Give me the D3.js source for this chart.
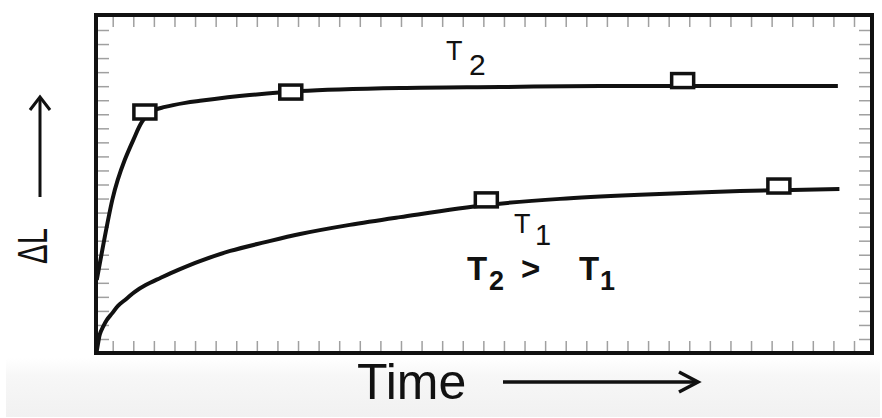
<!DOCTYPE html>
<html>
<head>
<meta charset="utf-8">
<script src="https://cdn.jsdelivr.net/npm/d3@7"></script>
<style>
  body { margin: 0; background: #fff; }
  svg { display: block; font-family: "Liberation Sans", Arial, sans-serif; }
</style>
</head>
<body>
<div id="chart"></div>
<script>
// curve values (time 0-100, length change 0-100)
const t2Time = [0.1, 2.1, 2.8, 3.7, 4.8, 5.9, 7.0, 8.9, 11.5, 13.4, 19.8, 26.3, 39.2, 52.1, 65.0, 77.8, 95.6];
const t2Len  = [21.6, 45.3, 51.2, 57.1, 63.0, 68.3, 71.3, 72.8, 74.0, 74.6, 76.3, 77.5, 78.4, 78.7, 79.0, 79.0, 79.0];
const t1Time = [0.1, 0.3, 0.5, 0.9, 1.4, 2.1, 2.8, 3.9, 5.0, 6.4, 8.3, 10.6, 13.4, 17.3, 21.8, 26.3, 32.7, 39.2, 50.3, 59.8, 70.1, 83.0, 95.8];
const t1Len  = [0.6, 3.3, 5.6, 7.7, 9.8, 11.8, 13.9, 16.0, 18.1, 20.1, 22.2, 24.6, 27.2, 30.2, 32.8, 35.2, 37.9, 40.2, 43.8, 45.6, 46.8, 47.9, 48.5];
// square markers
const t2MarkTime = [6.3, 25.1, 75.6];
const t2MarkLen  = [71.3, 77.2, 80.6];
const t1MarkTime = [50.3, 88.0];
const t1MarkLen  = [45.3, 49.4];
// minor tick counts on the frame
const xTickIdx = d3.range(37);
const yTickIdx = d3.range(23);

const width = 882, height = 418;
const frame = {left: 96, top: 15, right: 872, bottom: 353};

const svg = d3.select("#chart").append("svg")
    .attr("width", width)
    .attr("height", height);

// light grey band under the plot
const grad = svg.append("defs").append("linearGradient")
    .attr("id", "band").attr("x1", 0).attr("y1", 0).attr("x2", 0).attr("y2", 1);
grad.append("stop").attr("offset", "0").attr("stop-color", "#ffffff");
grad.append("stop").attr("offset", "0.3").attr("stop-color", "#f7f7f7");
grad.append("stop").attr("offset", "1").attr("stop-color", "#f1f1f1");
svg.append("rect")
    .attr("x", 6).attr("y", 358).attr("width", 874).attr("height", 59)
    .attr("fill", "url(#band)");

let x = d3.scaleLinear().domain([0, 100]).range([frame.left, frame.right]);
let y = d3.scaleLinear().domain([0, 100]).range([frame.bottom, frame.top]);
let xTick = d3.scaleLinear().domain([0, 36]).range([112.7, 854]);
let yTick = d3.scaleLinear().domain([0, 22]).range([30, 339]);

// minor ticks pointing inward
function tickStyle(g){
    g.select(".domain").remove();
    g.selectAll(".tick line").attr("stroke", "#a0a0a0").attr("stroke-width", 1.5);
}
svg.append("g").attr("transform", "translate(0," + (frame.top + 2) + ")")
    .call(d3.axisTop(xTick).tickValues(xTickIdx).tickFormat("").tickSize(-10).tickSizeOuter(0))
    .call(tickStyle);
svg.append("g").attr("transform", "translate(0," + (frame.bottom - 2) + ")")
    .call(d3.axisBottom(xTick).tickValues(xTickIdx).tickFormat("").tickSize(-10).tickSizeOuter(0))
    .call(tickStyle);
svg.append("g").attr("transform", "translate(" + (frame.left + 2) + ",0)")
    .call(d3.axisLeft(yTick).tickValues(yTickIdx).tickFormat("").tickSize(-11).tickSizeOuter(0))
    .call(tickStyle);
svg.append("g").attr("transform", "translate(" + (frame.right - 2) + ",0)")
    .call(d3.axisRight(yTick).tickValues(yTickIdx).tickFormat("").tickSize(-11).tickSizeOuter(0))
    .call(tickStyle);

// frame
svg.append("rect")
    .attr("x", frame.left).attr("y", frame.top)
    .attr("width", frame.right - frame.left).attr("height", frame.bottom - frame.top)
    .attr("fill", "none").attr("stroke", "#111").attr("stroke-width", 4);

let line = d3.line()
    .x(d => x(d[0]))
    .y(d => y(d[1]))
    .curve(d3.curveCatmullRom.alpha(0.5));

function drawCurve(times, lens){
    svg.append("path")
        .datum(times.map((t, i) => [t, lens[i]]))
        .attr("d", line)
        .attr("fill", "none")
        .attr("stroke", "#111")
        .attr("stroke-width", 4)
        .attr("stroke-linejoin", "round");
}
drawCurve(t1Time, t1Len);
drawCurve(t2Time, t2Len);

function drawMarks(times, lens){
    svg.append("g").selectAll("rect")
        .data(times.map((t, i) => [t, lens[i]]))
        .join("rect")
            .attr("x", d => x(d[0]) - 11)
            .attr("y", d => y(d[1]) - 7)
            .attr("width", 22)
            .attr("height", 14)
            .attr("fill", "#fff")
            .attr("stroke", "#111")
            .attr("stroke-width", 3.5);
}
drawMarks(t2MarkTime, t2MarkLen);
drawMarks(t1MarkTime, t1MarkLen);

// labels
function label(txt, px, py, size, weight){
    svg.append("text")
        .attr("x", px).attr("y", py)
        .attr("font-size", size)
        .attr("font-weight", weight || "normal")
        .attr("fill", "#111")
        .text(txt);
}
label("T", 446, 60, 27);
label("2", 469, 75, 30);
label("T", 514, 233, 27);
label("1", 535, 245, 29);
label("T", 467, 280, 33, "bold");
label("2", 489, 290, 27, "bold");
label(">", 521, 280, 33, "bold");
label("T", 579, 280, 33, "bold");
label("1", 600, 290, 27, "bold");

// axis titles with arrows
label("Time", 357, 399, 50);
svg.append("text")
    .attr("transform", "translate(47,264) rotate(-90) scale(0.7,1)")
    .attr("font-size", 42)
    .attr("fill", "#111")
    .text("ΔL");

svg.append("line")
    .attr("x1", 503).attr("y1", 382).attr("x2", 697).attr("y2", 382)
    .attr("stroke", "#111").attr("stroke-width", 3.5);
svg.append("polyline")
    .attr("points", "679,372 698,382 679,392")
    .attr("fill", "none").attr("stroke", "#111").attr("stroke-width", 3.5);

svg.append("line")
    .attr("x1", 40).attr("y1", 197).attr("x2", 40).attr("y2", 97)
    .attr("stroke", "#111").attr("stroke-width", 3);
svg.append("polyline")
    .attr("points", "30,110 40,97 50,110")
    .attr("fill", "none").attr("stroke", "#111").attr("stroke-width", 3);
</script>
</body>
</html>
